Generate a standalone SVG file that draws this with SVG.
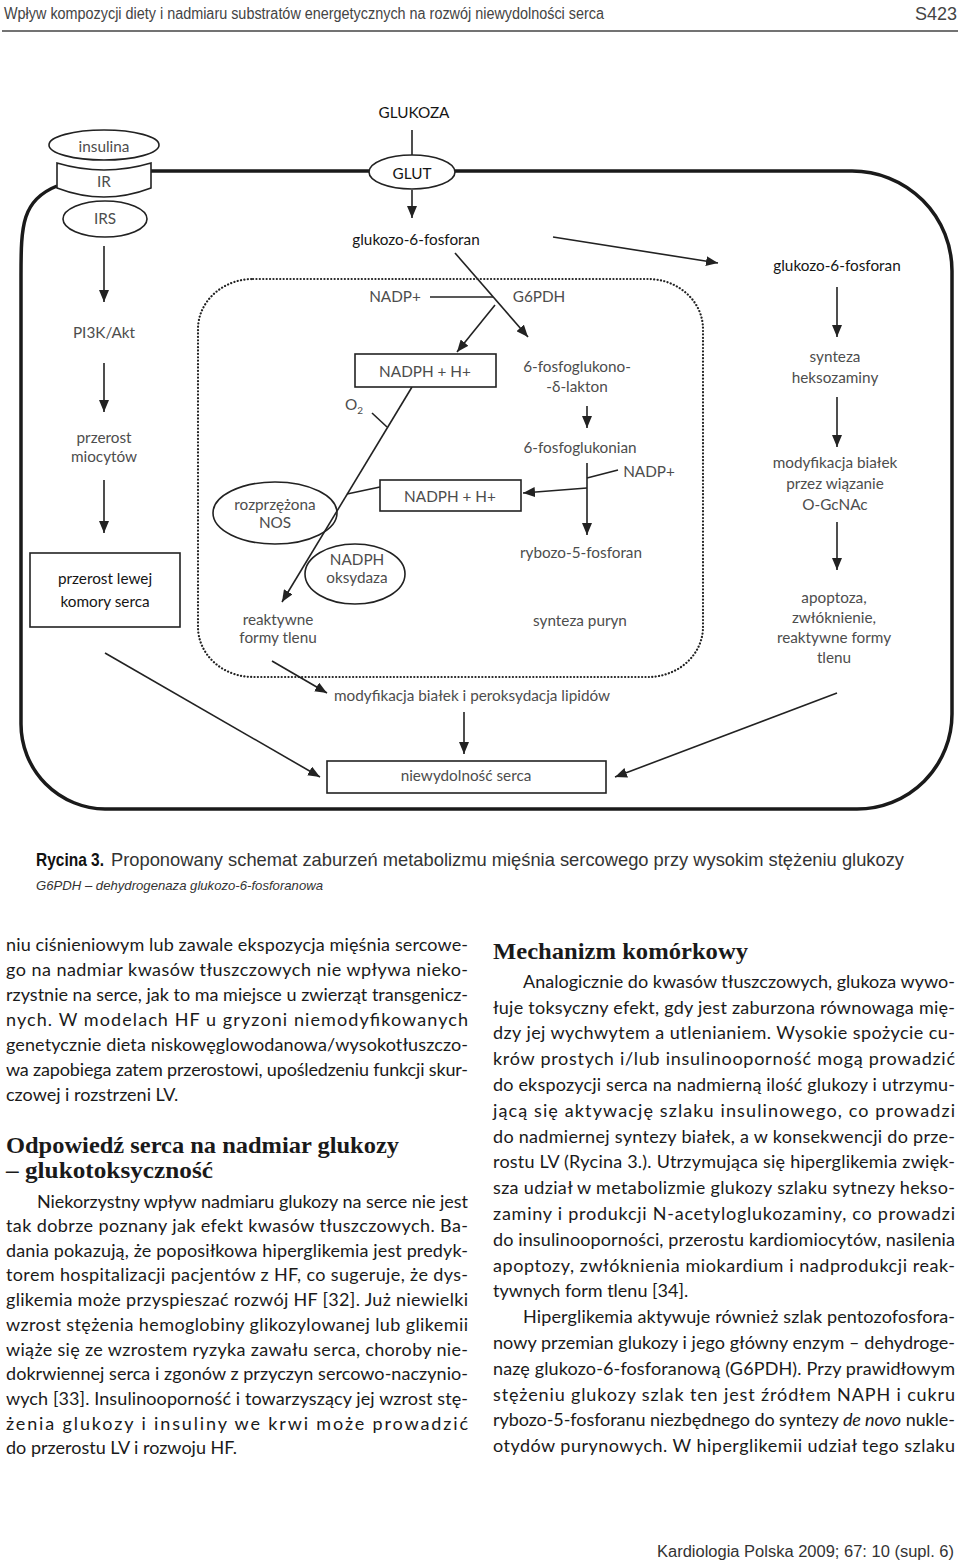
<svg xmlns="http://www.w3.org/2000/svg" width="960" height="1567" viewBox="0 0 960 1567">
<style>
.lbl{font-family:Lato,"Open Sans","DejaVu Sans",sans-serif;font-size:15.3px;fill:#4d4d4d;text-anchor:middle}
.dk{fill:#151515}
.ln{stroke:#222;stroke-width:1.6;fill:none}
.arr{marker-end:url(#ah)}
.box{fill:#fff;stroke:#222;stroke-width:1.6}
.body{font-family:Lato,"Open Sans","DejaVu Sans",sans-serif;font-size:18px;fill:#1a1a1a}
.hd{font-family:"Liberation Serif","DejaVu Serif",serif;font-weight:bold;font-size:22.5px;fill:#1a1a1a}
.cond{font-family:"Liberation Sans",Arial,sans-serif;fill:#333}
</style>
<defs>
<marker id="ah" viewBox="0 0 12 10" refX="12" refY="5" markerWidth="12" markerHeight="10" markerUnits="userSpaceOnUse" orient="auto">
<path d="M0,0 L12,5 L0,10 z" fill="#222"/>
</marker>
</defs>
<rect width="960" height="1567" fill="#fff"/>

<!-- page header -->
<g id="header">
<text class="cond" x="4" y="19" font-size="16" style="fill:#444" textLength="600" lengthAdjust="spacingAndGlyphs">Wpływ kompozycji diety i nadmiaru substratów energetycznych na rozwój niewydolności serca</text>
<text class="cond" x="957" y="20" font-size="18" text-anchor="end" style="fill:#444">S423</text>
<line x1="2" y1="31" x2="958" y2="31" stroke="#444" stroke-width="1.5"/>
</g>

<!-- cell membrane -->
<g id="cell">
<path d="M151,171 H370 M455,171 H852 A100,100 0 0 1 952,271 V714 A95,95 0 0 1 857,809 H105 A85,85 0 0 1 21,724 V275 C21,225 22,200 57,186" fill="none" stroke="#1a1a1a" stroke-width="3.5"/>
</g>

<!-- dotted compartment -->
<g id="compartment">
<rect x="198" y="279" width="505" height="398" rx="55" ry="50" fill="none" stroke="#222" stroke-width="2.2" stroke-dasharray="0.1 3.3" stroke-linecap="round"/>
</g>

<g id="connectors">
<path class="ln arr" d="M104,246 V302"/>
<path class="ln arr" d="M104,363 V412"/>
<path class="ln arr" d="M104,480 V533"/>
<path class="ln arr" d="M105,653 L320,777"/>
<path class="ln arr" d="M837,693 L615,777"/>
<path class="ln arr" d="M272,661 L327,693"/>
<path class="ln arr" d="M464,712 V754"/>
<path class="ln" d="M412,130 V155"/>
<path class="ln arr" d="M412,190 V218"/>
<path class="ln arr" d="M553,237 L718,263"/>
<path class="ln arr" d="M837,287 V337"/>
<path class="ln arr" d="M837,397 V447"/>
<path class="ln arr" d="M837,522 V570"/>
<path class="ln arr" d="M455,253 L528,337"/>
<path class="ln" d="M430,297 L493,297"/>
<path class="ln arr" d="M495,305 L457,352"/>
<path class="ln arr" d="M412,387 L282,602"/>
<path class="ln" d="M372,413 L387,427"/>
<path class="ln" d="M380,487 L347,494"/>
<path class="ln" d="M618,470 L587,478"/>
<path class="ln arr" d="M587,463 V535"/>
<path class="ln arr" d="M587,488 L523,493"/>
<path class="ln arr" d="M587,406 V428"/>
</g>

<g id="insulina">
<ellipse cx="104" cy="145" rx="55" ry="15" class="box"/>
<text class="lbl" x="104" y="152">insulina</text>
</g>
<g id="IR">
<path d="M57,163 Q104,177 151,163 L151,188 Q104,206 57,188 Z" class="box"/>
<text class="lbl" x="104" y="187">IR</text>
</g>
<g id="IRS">
<ellipse cx="105" cy="219" rx="42" ry="18" class="box"/>
<text class="lbl" x="105" y="224">IRS</text>
</g>
<g id="pi3k"><text class="lbl" x="104" y="338">PI3K/Akt</text></g>
<g id="przerost-miocytow"><text class="lbl" x="104" y="443">przerost</text><text class="lbl" x="104" y="462">miocytów</text></g>
<g id="przerost-lk">
<rect x="30" y="553" width="150" height="74" class="box"/>
<text class="lbl dk" x="105" y="584" font-size="20">przerost lewej</text>
<text class="lbl dk" x="105" y="607" font-size="20">komory serca</text>
</g>

<g id="glukoza"><text class="lbl dk" x="414" y="118" font-size="21">GLUKOZA</text></g>
<g id="GLUT">
<ellipse cx="412" cy="172" rx="43" ry="17" class="box"/>
<text class="lbl dk" x="412" y="179" font-size="18">GLUT</text>
</g>
<g id="g6p-left"><text class="lbl dk" x="416" y="245" font-size="19">glukozo-6-fosforan</text></g>
<g id="g6p-right"><text class="lbl dk" x="837" y="271" font-size="19">glukozo-6-fosforan</text></g>

<g id="nadp1"><text class="lbl" x="395" y="302">NADP+</text></g>
<g id="g6pdh"><text class="lbl" x="539" y="302">G6PDH</text></g>
<g id="nadph1">
<rect x="355" y="354" width="141" height="33" class="box"/>
<text class="lbl" x="425" y="377">NADPH + H+</text>
</g>
<g id="o2"><text class="lbl" x="354" y="410">O<tspan font-size="10" dy="4">2</tspan></text></g>
<g id="nadph2">
<rect x="380" y="480" width="141" height="31" class="box"/>
<text class="lbl" x="450" y="502">NADPH + H+</text>
</g>
<g id="nos">
<ellipse cx="275" cy="513" rx="62" ry="31" class="box" style="fill:none"/>
<text class="lbl" x="275" y="510">rozprzężona</text>
<text class="lbl" x="275" y="528">NOS</text>
</g>
<g id="nadph-oks">
<ellipse cx="355" cy="574" rx="50" ry="30" class="box" style="fill:none"/>
<text class="lbl" x="357" y="565">NADPH</text>
<text class="lbl" x="357" y="583">oksydaza</text>
</g>
<g id="rft-left"><text class="lbl" x="278" y="625">reaktywne</text><text class="lbl" x="278" y="643">formy tlenu</text></g>

<g id="lakton"><text class="lbl" x="577" y="372">6-fosfoglukono-</text><text class="lbl" x="577" y="392">-δ-lakton</text></g>
<g id="glukonian"><text class="lbl" x="580" y="453">6-fosfoglukonian</text></g>
<g id="nadp2"><text class="lbl" x="649" y="477">NADP+</text></g>
<g id="rybozo"><text class="lbl" x="581" y="558">rybozo-5-fosforan</text></g>
<g id="puryny"><text class="lbl" x="580" y="626">synteza puryn</text></g>

<g id="heksozaminy"><text class="lbl" x="835" y="362">synteza</text><text class="lbl" x="835" y="383">heksozaminy</text></g>
<g id="ogcnac"><text class="lbl" x="835" y="468">modyfikacja białek</text><text class="lbl" x="835" y="489">przez wiązanie</text><text class="lbl" x="835" y="510">O-GcNAc</text></g>
<g id="apoptoza"><text class="lbl" x="834" y="603">apoptoza,</text><text class="lbl" x="834" y="623">zwłóknienie,</text><text class="lbl" x="834" y="643">reaktywne formy</text><text class="lbl" x="834" y="663">tlenu</text></g>

<g id="peroksydacja"><text class="lbl" x="472" y="701">modyfikacja białek i peroksydacja lipidów</text></g>
<g id="niewydolnosc">
<rect x="327" y="761" width="279" height="32" class="box"/>
<text class="lbl" x="466" y="781">niewydolność serca</text>
</g>

<!-- caption -->
<g id="caption">
<text class="cond" x="36" y="866" font-size="18.5" font-weight="bold" style="fill:#111" textLength="68" lengthAdjust="spacingAndGlyphs">Rycina 3.</text>
<text class="cond" x="111" y="866" font-size="18.5" textLength="793" lengthAdjust="spacingAndGlyphs">Proponowany schemat zaburzeń metabolizmu mięśnia sercowego przy wysokim stężeniu glukozy</text>
<text class="cond" x="36" y="890" font-size="13.5" font-style="italic" textLength="287" lengthAdjust="spacingAndGlyphs">G6PDH – dehydrogenaza glukozo-6-fosforanowa</text>
</g>

<!-- left column -->
<g id="col-left">
<text class="body" x="6" y="951" textLength="462" lengthAdjust="spacing">niu ciśnieniowym lub zawale ekspozycja mięśnia sercowe-</text>
<text class="body" x="6" y="976" textLength="462" lengthAdjust="spacing">go na nadmiar kwasów tłuszczowych nie wpływa nieko-</text>
<text class="body" x="6" y="1001" textLength="462" lengthAdjust="spacing">rzystnie na serce, jak to ma miejsce u zwierząt transgenicz-</text>
<text class="body" x="6" y="1026" textLength="462" lengthAdjust="spacing">nych. W modelach HF u gryzoni niemodyfikowanych</text>
<text class="body" x="6" y="1051" textLength="462" lengthAdjust="spacing">genetycznie dieta niskowęglowodanowa/wysokotłuszczo-</text>
<text class="body" x="6" y="1076" textLength="462" lengthAdjust="spacing">wa zapobiega zatem przerostowi, upośledzeniu funkcji skur-</text>
<text class="body" x="6" y="1101">czowej i rozstrzeni LV.</text>
<text class="hd" x="6" y="1153" textLength="393" lengthAdjust="spacingAndGlyphs">Odpowiedź serca na nadmiar glukozy</text>
<text class="hd" x="6" y="1178" textLength="207" lengthAdjust="spacingAndGlyphs">– glukotoksyczność</text>
<text class="body" x="37" y="1208" textLength="431" lengthAdjust="spacing">Niekorzystny wpływ nadmiaru glukozy na serce nie jest</text>
<text class="body" x="6" y="1232" textLength="462" lengthAdjust="spacing">tak dobrze poznany jak efekt kwasów tłuszczowych. Ba-</text>
<text class="body" x="6" y="1257" textLength="462" lengthAdjust="spacing">dania pokazują, że poposiłkowa hiperglikemia jest predyk-</text>
<text class="body" x="6" y="1281" textLength="462" lengthAdjust="spacing">torem hospitalizacji pacjentów z HF, co sugeruje, że dys-</text>
<text class="body" x="6" y="1306" textLength="462" lengthAdjust="spacing">glikemia może przyspieszać rozwój HF [32]. Już niewielki</text>
<text class="body" x="6" y="1331" textLength="462" lengthAdjust="spacing">wzrost stężenia hemoglobiny glikozylowanej lub glikemii</text>
<text class="body" x="6" y="1356" textLength="462" lengthAdjust="spacing">wiąże się ze wzrostem ryzyka zawału serca, choroby nie-</text>
<text class="body" x="6" y="1380" textLength="462" lengthAdjust="spacing">dokrwiennej serca i zgonów z przyczyn sercowo-naczynio-</text>
<text class="body" x="6" y="1405" textLength="462" lengthAdjust="spacing">wych [33]. Insulinooporność i towarzyszący jej wzrost stę-</text>
<text class="body" x="6" y="1430" textLength="462" lengthAdjust="spacing">żenia glukozy i insuliny we krwi może prowadzić</text>
<text class="body" x="6" y="1454">do przerostu LV i rozwoju HF.</text>
</g>

<!-- right column -->
<g id="col-right">
<text class="hd" x="493" y="959" textLength="255" lengthAdjust="spacingAndGlyphs">Mechanizm komórkowy</text>
<text class="body" x="523" y="988" textLength="432" lengthAdjust="spacing">Analogicznie do kwasów tłuszczowych, glukoza wywo-</text>
<text class="body" x="493" y="1014" textLength="462" lengthAdjust="spacing">łuje toksyczny efekt, gdy jest zaburzona równowaga mię-</text>
<text class="body" x="493" y="1039" textLength="462" lengthAdjust="spacing">dzy jej wychwytem a utlenianiem. Wysokie spożycie cu-</text>
<text class="body" x="493" y="1065" textLength="462" lengthAdjust="spacing">krów prostych i/lub insulinooporność mogą prowadzić</text>
<text class="body" x="493" y="1091" textLength="462" lengthAdjust="spacing">do ekspozycji serca na nadmierną ilość glukozy i utrzymu-</text>
<text class="body" x="493" y="1117" textLength="462" lengthAdjust="spacing">jącą się aktywację szlaku insulinowego, co prowadzi</text>
<text class="body" x="493" y="1143" textLength="462" lengthAdjust="spacing">do nadmiernej syntezy białek, a w konsekwencji do prze-</text>
<text class="body" x="493" y="1168" textLength="462" lengthAdjust="spacing">rostu LV (Rycina 3.). Utrzymująca się hiperglikemia zwięk-</text>
<text class="body" x="493" y="1194" textLength="462" lengthAdjust="spacing">sza udział w metabolizmie glukozy szlaku sytnezy hekso-</text>
<text class="body" x="493" y="1220" textLength="462" lengthAdjust="spacing">zaminy i produkcji N-acetyloglukozaminy, co prowadzi</text>
<text class="body" x="493" y="1246" textLength="462" lengthAdjust="spacing">do insulinooporności, przerostu kardiomiocytów, nasilenia</text>
<text class="body" x="493" y="1272" textLength="462" lengthAdjust="spacing">apoptozy, zwłóknienia miokardium i nadprodukcji reak-</text>
<text class="body" x="493" y="1297">tywnych form tlenu [34].</text>
<text class="body" x="523" y="1323" textLength="432" lengthAdjust="spacing">Hiperglikemia aktywuje również szlak pentozofosfora-</text>
<text class="body" x="493" y="1349" textLength="462" lengthAdjust="spacing">nowy przemian glukozy i jego główny enzym – dehydroge-</text>
<text class="body" x="493" y="1375" textLength="462" lengthAdjust="spacing">nazę glukozo-6-fosforanową (G6PDH). Przy prawidłowym</text>
<text class="body" x="493" y="1401" textLength="462" lengthAdjust="spacing">stężeniu glukozy szlak ten jest źródłem NAPH i cukru</text>
<text class="body" x="493" y="1426" textLength="462" lengthAdjust="spacing">rybozo-5-fosforanu niezbędnego do syntezy <tspan font-style="italic">de novo</tspan> nukle-</text>
<text class="body" x="493" y="1452" textLength="462" lengthAdjust="spacing">otydów purynowych. W hiperglikemii udział tego szlaku</text>
</g>

<g id="footer">
<text class="cond" x="657" y="1557" font-size="16" style="fill:#333" textLength="297" lengthAdjust="spacingAndGlyphs">Kardiologia Polska 2009; 67: 10 (supl. 6)</text>
</g>
</svg>
